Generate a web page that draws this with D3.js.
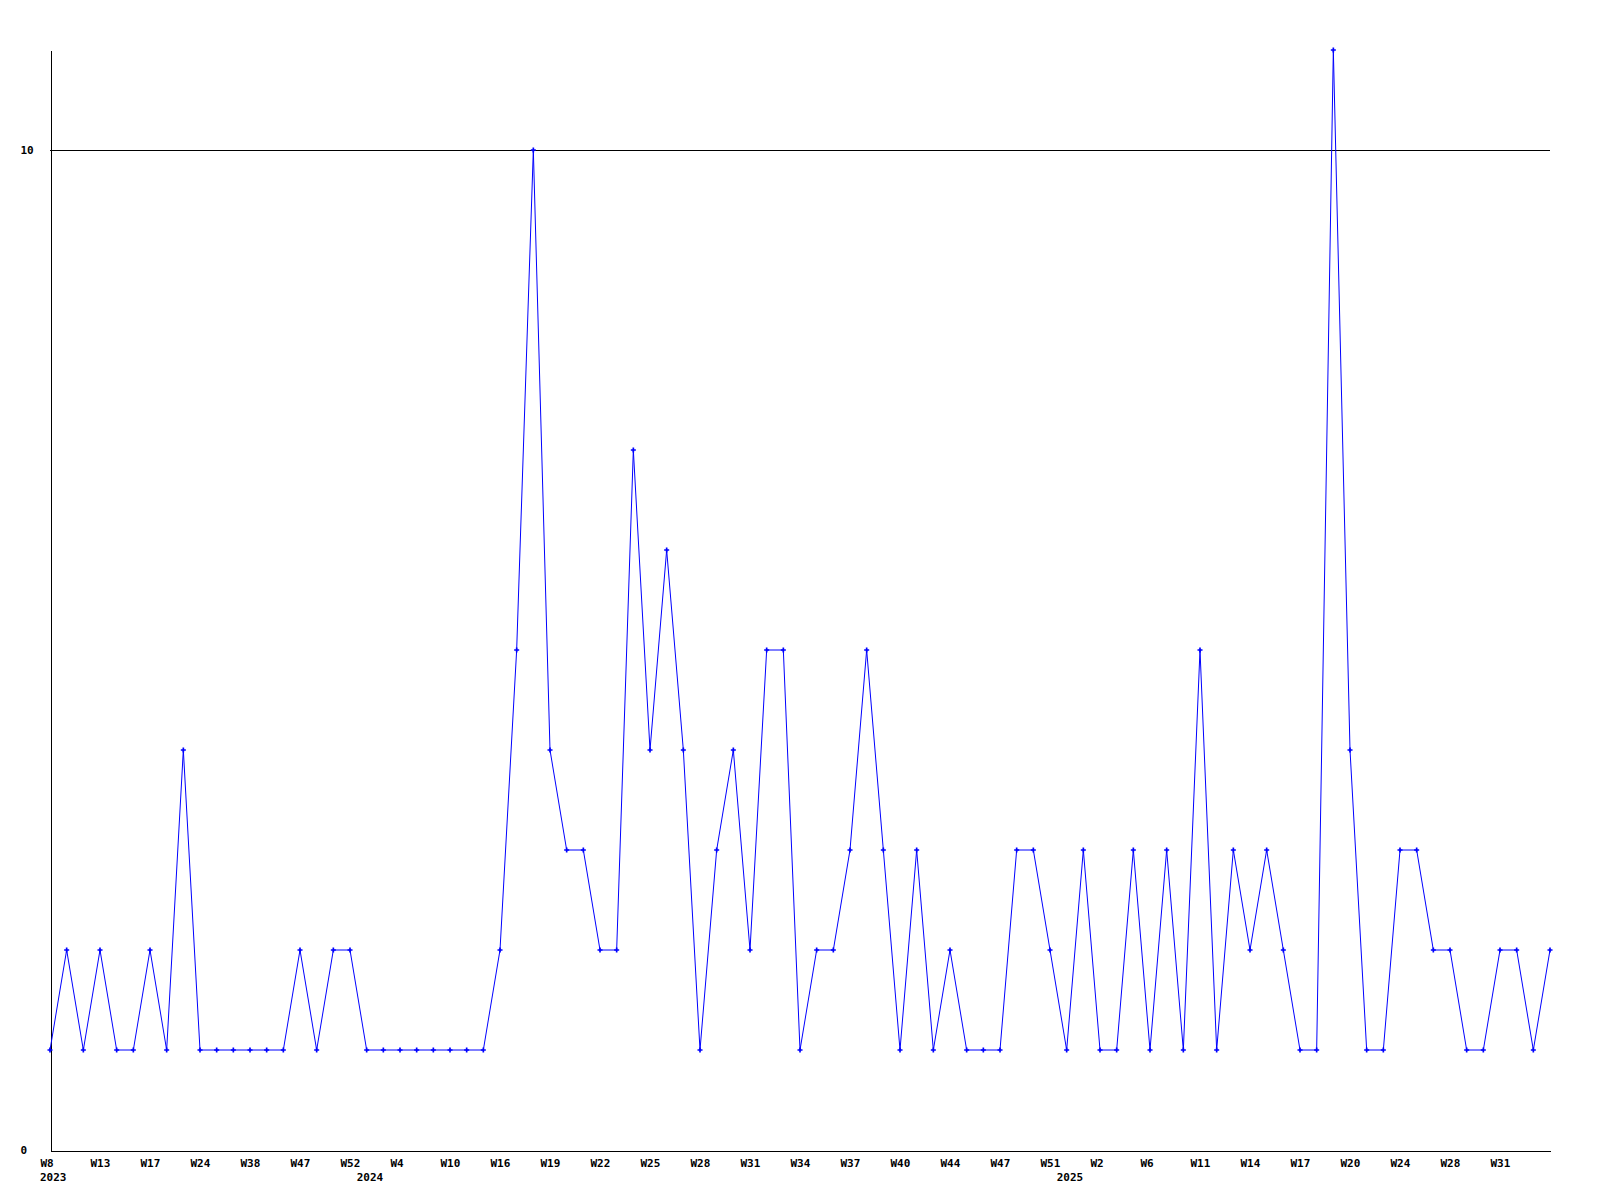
<!DOCTYPE html>
<html>
<head>
<meta charset="utf-8">
<script src="https://cdn.jsdelivr.net/npm/d3@7"></script>
<style>
  html, body { margin: 0; padding: 0; background: #fff; }
  svg text { font-family: "DejaVu Sans Mono", "Liberation Mono", monospace; font-weight: bold; font-size: 11px; fill: #000; }
</style>
</head>
<body>
<svg id="chart" width="1600" height="1200"></svg>
<script>
// Weekly counts (one value per observed week, in order)
const values = [
  1, 2, 1, 2, 1, 1, 2, 1, 4, 1,
  1, 1, 1, 1, 1, 2, 1, 2, 2, 1,
  1, 1, 1, 1, 1, 1, 1, 2, 5, 10,
  4, 3, 3, 2, 2, 7, 4, 6, 4, 1,
  3, 4, 2, 5, 5, 1, 2, 2, 3, 5,
  3, 1, 3, 1, 2, 1, 1, 1, 3, 3,
  2, 1, 3, 1, 1, 3, 1, 3, 1, 5,
  1, 3, 2, 3, 2, 1, 1, 11, 4, 1,
  1, 3, 3, 2, 2, 1, 1, 2, 2, 1,
  2
];
// Week tick labels (every third observation)
const tickIndices = d3.range(0, 88, 3);
const tickLabels = ["W8","W13","W17","W24","W38","W47","W52","W4","W10","W16",
  "W19","W22","W25","W28","W31","W34","W37","W40","W44","W47",
  "W51","W2","W6","W11","W14","W17","W20","W24","W28","W31"];
// Year labels at first observation of each year
const yearIndices = [0, 19, 61];
const yearLabels = ["2023", "2024", "2025"];
// Y axis tick labels
const yTicks = [0, 10];

const svg = d3.select("#chart");
const x = d3.scaleLinear().domain([0, values.length - 1]).range([50, 1550]);
const y = d3.scaleLinear().domain([0, 11]).range([1150, 50]);

// gridline at 10
svg.append("line")
  .attr("x1", x(0)).attr("x2", x(values.length - 1))
  .attr("y1", y(10) + 0.5).attr("y2", y(10) + 0.5)
  .attr("stroke", "#000").attr("shape-rendering", "crispEdges");

// axes
const xAxis = d3.axisBottom(x)
  .tickValues(tickIndices)
  .tickFormat((d, i) => tickLabels[i])
  .tickSize(0).tickSizeOuter(0);
const gx = svg.append("g").attr("transform", `translate(0,${y(0) + 0.5})`).call(xAxis);
gx.select(".domain").attr("stroke", "#000").attr("shape-rendering", "crispEdges");
gx.selectAll(".tick text")
  .attr("text-anchor", "start")
  .attr("dx", -10)
  .attr("y", 0).attr("dy", "16px")
  .style("font-family", "'DejaVu Sans Mono', monospace")
  .style("font-weight", "bold").style("font-size", "11px");

const yAxis = d3.axisLeft(y).tickValues(yTicks).tickFormat(d3.format("d")).tickSize(0).tickSizeOuter(0);
const gy = svg.append("g").attr("transform", `translate(${x(0) + 0.5},0)`).call(yAxis);
gy.select(".domain").attr("stroke", "#000").attr("shape-rendering", "crispEdges");
gy.selectAll(".tick text")
  .attr("text-anchor", "start")
  .attr("x", 20 - x(0))
  .attr("dy", "0.35em")
  .style("font-family", "'DejaVu Sans Mono', monospace")
  .style("font-weight", "bold").style("font-size", "11px");

// year labels
svg.append("g").selectAll("text").data(yearIndices).join("text")
  .attr("x", d => x(d) - 10)
  .attr("y", 1181)
  .text((d, i) => yearLabels[i]);

// line
const line = d3.line().x((d, i) => x(i)).y(d => y(d));
svg.append("path").datum(values)
  .attr("d", line)
  .attr("fill", "none").attr("stroke", "#0000ff").attr("stroke-width", 1);

// markers
svg.append("g").selectAll("path").data(values).join("path")
  .attr("transform", (d, i) => `translate(${x(i)},${y(d)})`)
  .attr("d", d3.symbol().type(d3.symbolCross).size(14))
  .attr("fill", "#0000ff");
</script>
</body>
</html>
